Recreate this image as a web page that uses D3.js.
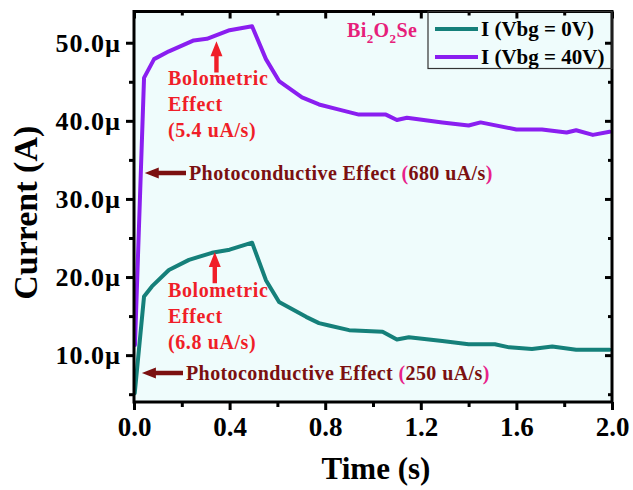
<!DOCTYPE html>
<html>
<head>
<meta charset="utf-8">
<script src="https://cdn.jsdelivr.net/npm/d3@7"></script>
<style>
  body { margin: 0; background: #ffffff; }
  svg { display: block; }
  text { font-family: "Liberation Serif", "Times New Roman", serif; font-weight: bold; }
</style>
</head>
<body>
<svg id="chart" width="633" height="490"></svg>
<script>
// Photocurrent transients of Bi2O2Se, current in µA versus time in s
const time0V = [0.003, 0.042, 0.075, 0.146, 0.23, 0.326, 0.40, 0.494, 0.552, 0.607, 0.72, 0.774, 0.816, 0.90, 1.04, 1.10, 1.15, 1.29, 1.40, 1.51, 1.57, 1.665, 1.75, 1.85, 1.99];
const current0V = [5.1, 17.5, 18.8, 20.9, 22.2, 23.1, 23.5, 24.4, 19.6, 16.8, 14.9, 14.1, 13.8, 13.2, 13.0, 12.0, 12.3, 11.8, 11.4, 11.4, 11.0, 10.8, 11.1, 10.7, 10.7];

const time40V = [0.004, 0.042, 0.084, 0.146, 0.25, 0.305, 0.40, 0.494, 0.552, 0.607, 0.703, 0.774, 0.85, 0.941, 1.054, 1.10, 1.142, 1.29, 1.40, 1.45, 1.60, 1.707, 1.81, 1.85, 1.92, 1.99];
const current40V = [11.3, 45.5, 47.9, 48.9, 50.3, 50.5, 51.6, 52.1, 47.9, 45.1, 43.0, 42.1, 41.5, 40.8, 40.8, 40.1, 40.4, 39.8, 39.4, 39.8, 38.9, 38.9, 38.5, 38.8, 38.2, 38.6];

const seriesNames = ["I (Vbg = 0V)", "I (Vbg = 40V)"];
const seriesColors = ["#15807a", "#8a1ef0"];

const xMajorTicks = [0, 0.4, 0.8, 1.2, 1.6, 2.0];
const xMinorTicks = [0.2, 0.6, 1.0, 1.4, 1.8];
const yMajorTicks = [10, 20, 30, 40, 50];
const yMinorTicks = [5, 15, 25, 35, 45];

const svg = d3.select("#chart");
const plotLeft = 134, plotRight = 612, plotTop = 11.5, plotBottom = 402;

const x = d3.scaleLinear().domain([0, 2]).range([plotLeft, plotRight]);
const y = d3.scaleLinear().domain([4, 54]).range([plotBottom, plotTop]);

// plot background
svg.append("rect")
  .attr("x", plotLeft).attr("y", plotTop)
  .attr("width", plotRight - plotLeft).attr("height", plotBottom - plotTop)
  .attr("fill", "#effcfc");

svg.append("clipPath").attr("id", "plotClip")
  .append("rect").attr("x", plotLeft).attr("y", plotTop)
  .attr("width", plotRight - plotLeft).attr("height", plotBottom - plotTop);

// curves
const series = [
  d3.zip(time0V, current0V),
  d3.zip(time40V, current40V)
];
const line = d3.line().x(d => x(d[0])).y(d => y(d[1]));
svg.append("g").attr("clip-path", "url(#plotClip)")
  .selectAll("path").data(series).join("path")
  .attr("d", line)
  .attr("fill", "none")
  .attr("stroke", (d, i) => seriesColors[i])
  .attr("stroke-width", 4)
  .attr("stroke-linejoin", "round")
  .attr("stroke-linecap", "round");

// axes
function styleAxis(g) {
  g.select(".domain").remove();
  g.selectAll(".tick line").attr("stroke", "#000").attr("stroke-width", 3);
  g.selectAll(".tick text").attr("fill", "#000");
}

svg.append("g").attr("transform", `translate(0,${plotBottom})`)
  .call(d3.axisBottom(x).tickValues(xMajorTicks).tickSize(8).tickPadding(6).tickFormat(d3.format(".1f")))
  .call(styleAxis)
  .call(g => g.selectAll(".tick text").attr("font-size", 27).attr("font-family", "Liberation Serif").attr("font-weight", "bold").attr("dy", "0.73em"));
svg.append("g").attr("transform", `translate(0,${plotBottom})`)
  .call(d3.axisBottom(x).tickValues(xMinorTicks).tickSize(5).tickFormat(""))
  .call(styleAxis);

svg.append("g").attr("transform", `translate(${plotLeft},0)`)
  .call(d3.axisLeft(y).tickValues(yMajorTicks).tickSize(8).tickPadding(5).tickFormat(d => d.toFixed(1) + "\u00b5"))
  .call(styleAxis)
  .call(g => g.selectAll(".tick text").attr("font-size", 26).attr("letter-spacing", 1).attr("font-family", "Liberation Serif").attr("font-weight", "bold").attr("dy", "0.34em"));
svg.append("g").attr("transform", `translate(${plotLeft},0)`)
  .call(d3.axisLeft(y).tickValues(yMinorTicks).tickSize(5).tickFormat(""))
  .call(styleAxis);

// mirrored ticks on top and right, pointing inward
svg.append("g").attr("transform", `translate(0,${plotTop})`)
  .call(d3.axisTop(x).tickValues(xMajorTicks).tickSize(-7).tickFormat(""))
  .call(styleAxis);
svg.append("g").attr("transform", `translate(0,${plotTop})`)
  .call(d3.axisTop(x).tickValues(xMinorTicks).tickSize(-4).tickFormat(""))
  .call(styleAxis);
svg.append("g").attr("transform", `translate(${plotRight},0)`)
  .call(d3.axisRight(y).tickValues(yMajorTicks).tickSize(-7).tickFormat(""))
  .call(styleAxis);
svg.append("g").attr("transform", `translate(${plotRight},0)`)
  .call(d3.axisRight(y).tickValues(yMinorTicks).tickSize(-4).tickFormat(""))
  .call(styleAxis);

// frame
svg.append("rect")
  .attr("x", plotLeft).attr("y", plotTop)
  .attr("width", plotRight - plotLeft).attr("height", plotBottom - plotTop)
  .attr("fill", "none").attr("stroke", "#000").attr("stroke-width", 3);

// axis titles
svg.append("text")
  .attr("x", (plotLeft + plotRight) / 2 + 3).attr("y", 479)
  .attr("text-anchor", "middle").attr("font-size", 31).attr("fill", "#000")
  .text("Time (s)");
svg.append("text")
  .attr("transform", `translate(37,${(plotTop + plotBottom) / 2 + 6}) rotate(-90)`)
  .attr("text-anchor", "middle").attr("font-size", 34).attr("fill", "#000")
  .text("Current (A)");

// legend
const legend = svg.append("g");
legend.append("rect")
  .attr("x", 428).attr("y", plotTop).attr("width", plotRight - 428).attr("height", 57)
  .attr("fill", "none").attr("stroke", "#333").attr("stroke-width", 1.2);
seriesNames.forEach((name, i) => {
  const ly = 29 + i * 28;
  legend.append("line")
    .attr("x1", 435).attr("x2", 478).attr("y1", ly).attr("y2", ly)
    .attr("stroke", seriesColors[i]).attr("stroke-width", 4);
  legend.append("text")
    .attr("x", 481).attr("y", ly + 7)
    .attr("font-size", 21).attr("fill", "#000")
    .text(name);
});

// compound label
const chem = svg.append("text")
  .attr("x", 347).attr("y", 37).attr("font-size", 20).attr("letter-spacing", 0.4).attr("fill", "#e6207a");
chem.append("tspan").text("Bi");
chem.append("tspan").attr("dy", 6).attr("font-size", 13).text("2");
chem.append("tspan").attr("dy", -6).text("O");
chem.append("tspan").attr("dy", 6).attr("font-size", 13).text("2");
chem.append("tspan").attr("dy", -6).text("Se");

// annotations
const red = "#f01e28", maroon = "#7b1010", pink = "#e8208a";

function upArrow(cx, tipY, baseY) {
  const head = 15, hw = 6, sw = 2.2;
  svg.append("path")
    .attr("d", `M${cx},${tipY} L${cx + hw},${tipY + head} L${cx + sw},${tipY + head} L${cx + sw},${baseY} L${cx - sw},${baseY} L${cx - sw},${tipY + head} L${cx - hw},${tipY + head} Z`)
    .attr("fill", red);
}
function leftArrow(tipX, cy, endX) {
  const head = 14, hh = 5.5, sw = 2.2;
  svg.append("path")
    .attr("d", `M${tipX},${cy} L${tipX + head},${cy - hh} L${tipX + head},${cy - sw} L${endX},${cy - sw} L${endX},${cy + sw} L${tipX + head},${cy + sw} L${tipX + head},${cy + hh} Z`)
    .attr("fill", maroon);
}
function bolometric(x0, y0, rate) {
  ["Bolometric", "Effect", rate].forEach((t, i) => {
    svg.append("text").attr("x", x0).attr("y", y0 + i * 26)
      .attr("font-size", 20).attr("letter-spacing", 0.6).attr("fill", red).text(t);
  });
}
function photo(x0, y0, rate) {
  const t = svg.append("text").attr("x", x0).attr("y", y0)
    .attr("font-size", 20).attr("letter-spacing", 0.4).attr("fill", maroon);
  t.append("tspan").text("Photoconductive Effect ");
  t.append("tspan").attr("fill", pink).text("(");
  t.append("tspan").text(rate);
  t.append("tspan").attr("fill", pink).text(")");
}

upArrow(x(0.345), y(50.2), y(46.2));
bolometric(168, 85, "(5.4 uA/s)");
upArrow(x(0.338), y(23.2), y(19.2));
bolometric(168, 297, "(6.8 uA/s)");

leftArrow(x(0.045), 173, 186);
photo(189, 180, "680 uA/s");
leftArrow(x(0.033), 373, 183);
photo(186, 380, "250 uA/s");
</script>
</body>
</html>
